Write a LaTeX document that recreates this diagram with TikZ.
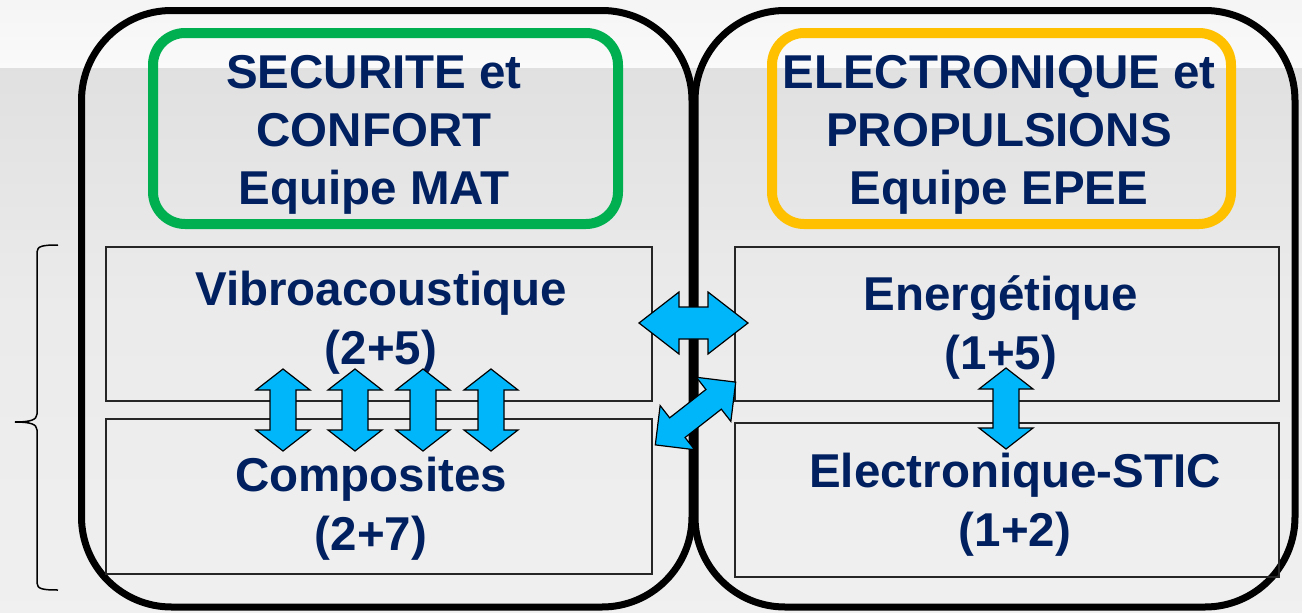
\documentclass[tikz,border=0pt]{standalone}
\usepackage{fontspec}
\setmainfont{Liberation Sans}
\definecolor{navy}{RGB}{0,32,96}
\definecolor{arrblue}{RGB}{0,182,250}
\definecolor{grn}{RGB}{0,176,80}
\definecolor{org}{RGB}{255,192,0}
\newcommand{\dblarrow}[7]{%
\begin{scope}[shift={(#1,#2)},rotate=#3]
\pgfmathsetmacro\arrA{#4-#5}
\draw[blockarrow] (-#4,0) -- (-\arrA,#6) -- (-\arrA,#7) -- (\arrA,#7) -- (\arrA,#6) -- (#4,0) -- (\arrA,-#6) -- (\arrA,-#7) -- (-\arrA,-#7) -- (-\arrA,-#6) -- cycle;
\end{scope}}
\tikzset{
  bigbox/.style={draw=black,line width=7pt,rounded corners=90pt,rectangle,inner sep=0pt},
  teambox/.style={draw=#1,line width=10pt,rounded corners=32pt,rectangle,inner sep=0pt},
  subbox/.style={draw=black!85,line width=1.8pt,rectangle,inner sep=0pt},
  lbl/.style={text=navy,font=\bfseries\fontsize{47.5}{58}\selectfont,align=center,inner sep=0pt},
  sublbl/.style={lbl,font=\bfseries\fontsize{47.5}{59.5}\selectfont},
  blockarrow/.style={fill=arrblue,draw=black,line width=1.2pt,line join=miter},
}
\begin{document}
\begin{tikzpicture}[x=1pt,y=-1pt]
\useasboundingbox (0,0) rectangle (1302,613);
% background
\fill[black!7] (0,0) rectangle (1302,613);
\shade[top color=black!4,bottom color=black!2] (0,0) rectangle (1302,68);
\shade[top color=black!12,bottom color=black!8] (0,68) rectangle (1302,300);
\shade[top color=black!8,bottom color=black!6] (0,300) rectangle (1302,613);
% brace
\draw[line width=1.5pt] (58,245) .. controls (43,245) and (37,246) .. (37,252) -- (37,414)
  .. controls (37,420) and (30,422) .. (15,422)
  .. controls (30,422) and (37,424) .. (37,430) -- (37,583)
  .. controls (37,589) and (43,590) .. (58,590);
% big boxes
\node[bigbox,minimum width=610.5pt,minimum height=596.5pt] (left) at (386.75,308.75) {};
\node[bigbox,minimum width=600pt,minimum height=596.5pt] (right) at (995,308.75) {};
% team boxes
\node[teambox=grn,minimum width=465pt,minimum height=191pt] (mat) at (385.5,128.5) {};
\node[teambox=org,minimum width=459pt,minimum height=191pt] (epee) at (1001.5,128.5) {};
% sub boxes
\node[subbox,minimum width=546pt,minimum height=154pt] (vib) at (379,324) {};
\node[subbox,minimum width=546pt,minimum height=155pt] (comp) at (379,496.5) {};
\node[subbox,minimum width=544pt,minimum height=154pt] (ener) at (1007,324) {};
\node[subbox,minimum width=544pt,minimum height=154pt] (estic) at (1007,500) {};
% texts
\node[lbl] (matt) at (374,134.5) {SECURITE et\\CONFORT\\Equipe MAT};
\node[lbl] (epeet) at (999,134.5) {ELECTRONIQUE et\\PROPULSIONS\\Equipe EPEE};
\node[sublbl] (vibt) at (381,322.5) {Vibroacoustique\\(2+5)};
\node[sublbl] (compt) at (371,508.5) {Composites\\(2+7)};
\node[sublbl] (enert) at (1001,327.5) {Energétique\\(1+5)};
\node[sublbl] (estict) at (1015,504.5) {Electronique-STIC\\(1+2)};
% block arrows
\dblarrow{283}{410}{90}{41}{21}{27}{13}
\dblarrow{355}{410}{90}{41}{21}{27}{13}
\dblarrow{423}{410}{90}{41}{21}{27}{13}
\dblarrow{491}{410}{90}{41}{21}{27}{13}
\dblarrow{1006}{408.5}{90}{40.5}{21}{27}{13}
\dblarrow{693.5}{323}{0}{54.5}{40}{31}{16}
\dblarrow{695.5}{413.5}{38}{51}{28}{28}{12.5}
\end{tikzpicture}
\end{document}
